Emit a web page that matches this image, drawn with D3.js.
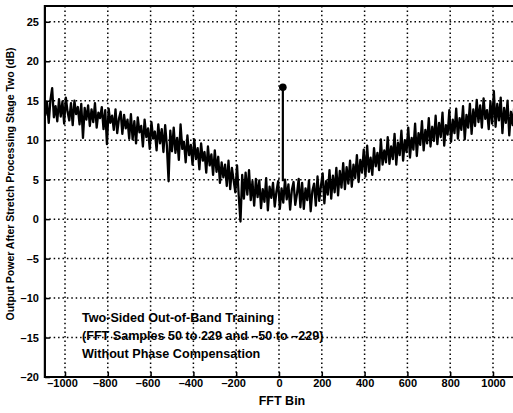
<!DOCTYPE html>
<html>
<head>
<meta charset="utf-8">
<script src="https://cdn.jsdelivr.net/npm/d3@7"></script>
<style>
  body { margin: 0; background: #fff; }
  svg { display: block; font-family: Arial, "Liberation Sans", sans-serif; font-weight: bold; }
</style>
</head>
<body>
<div class="chart"></div>
<script>
// spectrum, one value every 8 bins from -1092 to 1100
const binStart = -1092;
const binStep = 8;
const power = [
  13.1, 14.8, 12.2, 15.1, 16.6, 12.9, 14.3, 12.4, 15.2, 13.0, 14.9, 12.1, 15.4, 13.6, 12.5, 14.7, 11.9, 15.0, 13.3, 14.2, 12.0, 14.6, 10.3, 14.1, 12.6,
  14.4, 11.8, 13.9, 12.3, 14.7, 11.6, 13.5, 12.8, 14.2, 11.4, 13.8, 9.5, 14.0, 12.2, 13.1, 11.3, 13.9, 10.9, 12.7, 13.6, 10.8, 13.2, 11.5, 12.6, 10.2,
  13.3, 10.1, 12.4, 9.6, 12.9, 11.0, 11.8, 9.2, 12.6, 10.4, 11.5, 8.9, 12.3, 10.2, 11.1, 8.7, 12.0, 9.6, 11.4, 8.5, 11.9, 9.3, 4.8, 11.2, 8.6,
  11.6, 8.4, 10.3, 7.5, 12.0, 8.9, 9.8, 7.2, 10.6, 8.1, 9.4, 6.9, 10.1, 7.6, 9.0, 6.3, 9.6, 7.4, 8.5, 5.9, 9.2, 6.8, 8.2, 5.6, 8.7,
  6.0, 7.9, 4.6, 7.2, 5.3, 6.9, 4.2, 7.4, 3.8, 6.5, 4.9, 3.4, 6.8, 2.9, -0.3, 5.6, 2.6, 5.9, 3.1, 6.2, 2.4, 4.8, 1.7, 5.1, 2.8,
  4.9, 1.4, 3.8, 2.2, 5.2, 1.1, 4.1, 2.7, 4.6, 1.6, 3.5, 4.8, 1.3, 3.9, 2.1, 5.0, 2.5, 4.4, 1.2, 3.7, 4.7, 1.8, 3.2, 5.1, 1.5,
  4.6, 1.3, 3.9, 2.4, 4.9, 1.0, 3.6, 4.5, 1.7, 5.4, 2.3, 4.2, 5.8, 2.0, 4.8, 3.1, 6.2, 2.6, 5.5, 3.4, 6.5, 3.0, 6.1, 4.0, 7.1,
  3.8, 6.6, 4.5, 7.4, 4.1, 6.9, 5.2, 8.1, 4.7, 7.5, 5.9, 8.8, 5.4, 9.3, 6.0, 7.8, 5.6, 9.0, 6.7, 8.4, 6.2, 10.1, 6.9, 8.7, 7.2,
  10.4, 7.0, 9.2, 7.6, 10.8, 6.9, 9.7, 8.1, 11.2, 7.4, 10.0, 8.5, 11.6, 7.8, 10.3, 8.8, 12.1, 8.0, 10.9, 9.4, 12.4, 8.7, 11.3, 9.6, 12.8,
  9.2, 11.7, 9.9, 13.1, 9.5, 12.2, 10.4, 13.5, 9.3, 11.9, 10.7, 13.8, 9.8, 12.6, 10.9, 14.0, 10.2, 12.8, 11.3, 14.3, 10.1, 13.2, 11.6, 14.6, 10.8,
  13.9, 11.8, 15.1, 12.3, 14.4, 11.6, 15.3, 12.7, 13.8, 11.4, 14.9, 12.1, 16.2, 11.7, 14.6, 12.5, 15.4, 10.9, 14.1, 12.2, 15.0, 10.6, 13.6, 11.9, 14.5
];

// the single stem
const stemBin = 18;
const stemTop = 16.7;
const stemBase = 4.8;

const xTicks = [-1000, -800, -600, -400, -200, 0, 200, 400, 600, 800, 1000];
const yTicks = [-20, -15, -10, -5, 0, 5, 10, 15, 20, 25];
const xDomain = [-1094, 1100];
const yDomain = [-20, 27];

const notes = [
  'Two-Sided Out-of-Band Training',
  '(FFT Samples 50 to 229 and \u201350 to \u2013229)',
  'Without Phase Compensation'
];

const width = 513;
const height = 413;

const x = d3.scaleLinear().domain([-1000, 1000]).range([65, 493]);
const y = d3.scaleLinear().domain(yDomain).range([377, 6]);
const plotLeft = x(xDomain[0]), plotRight = x(xDomain[1]);
const plotTop = y(yDomain[1]), plotBottom = y(yDomain[0]);

const fmt = d => (d < 0 ? '\u2013' + Math.abs(d) : String(d));

const svg = d3.select('.chart').append('svg')
  .attr('width', width)
  .attr('height', height);

// dotted grid
const grid = svg.append('g')
  .attr('stroke', '#000')
  .attr('stroke-width', 1.5)
  .attr('stroke-dasharray', '1.5,2.9');

grid.selectAll('.gx')
  .data(xTicks)
  .enter().append('line')
    .attr('x1', d => x(d)).attr('x2', d => x(d))
    .attr('y1', plotTop).attr('y2', plotBottom);

grid.selectAll('.gy')
  .data(yTicks.filter(d => d > yDomain[0]))
  .enter().append('line')
    .attr('y1', d => y(d)).attr('y2', d => y(d))
    .attr('x1', plotLeft).attr('x2', plotRight);

// axes, ticks pointing inward like matlab
const xAxis = svg.append('g')
  .attr('transform', `translate(0,${plotBottom})`)
  .call(d3.axisBottom(x).tickValues(xTicks).tickSizeInner(-5).tickSizeOuter(0).tickFormat(fmt).tickPadding(4));

const yAxis = svg.append('g')
  .attr('transform', `translate(${plotLeft},0)`)
  .call(d3.axisLeft(y).tickValues(yTicks).tickSizeInner(-5).tickSizeOuter(0).tickFormat(fmt).tickPadding(6));

[xAxis, yAxis].forEach(a => {
  a.select('.domain').remove();
  a.selectAll('line').attr('stroke', '#000').attr('stroke-width', 1.5);
  a.selectAll('text')
    .attr('fill', '#000')
    .style('font-size', '11px')
    .style('font-weight', 'bold')
    .style('font-family', 'Arial, "Liberation Sans", sans-serif');
});
xAxis.selectAll('text').attr('dy', '0.55em');
// negative labels sit a little left of their ticks in the original
xAxis.selectAll('.tick text').attr('dx', d => (d < 0 ? -3 : 0));

// spectrum trace
const bins = d3.range(power.length).map(i => binStart + i * binStep);

svg.append('path')
  .datum(power)
  .attr('fill', 'none')
  .attr('stroke', '#000')
  .attr('stroke-width', 2.3)
  .attr('stroke-linejoin', 'round')
  .attr('d', d3.line()
    .x((d, i) => x(bins[i]))
    .y(d => y(d)));

// stem with a dot on top
svg.append('line')
  .attr('x1', x(stemBin)).attr('x2', x(stemBin))
  .attr('y1', y(stemBase)).attr('y2', y(stemTop))
  .attr('stroke', '#000')
  .attr('stroke-width', 2.2);

svg.append('circle')
  .attr('cx', x(stemBin))
  .attr('cy', y(stemTop))
  .attr('r', 3.8)
  .attr('fill', '#000');

// frame (right edge falls off the picture)
svg.append('path')
  .attr('fill', 'none')
  .attr('stroke', '#000')
  .attr('stroke-width', 2.2)
  .attr('d', `M${plotRight},${plotTop}H${plotLeft}V${plotBottom}H${plotRight}`);

// annotation
svg.append('g').selectAll('text')
  .data(notes)
  .enter().append('text')
    .attr('x', 82)
    .attr('y', (d, i) => 322 + i * 18)
    .style('font-size', '12.6px')
    .text(d => d);

// axis titles
svg.append('text')
  .attr('x', 282)
  .attr('y', 405)
  .attr('text-anchor', 'middle')
  .style('font-size', '12.5px')
  .text('FFT Bin');

svg.append('text')
  .attr('transform', 'translate(14,184) rotate(-90)')
  .attr('text-anchor', 'middle')
  .style('font-size', '10.5px')
  .text('Output Power After Stretch Processing Stage Two (dB)');
</script>
</body>
</html>
